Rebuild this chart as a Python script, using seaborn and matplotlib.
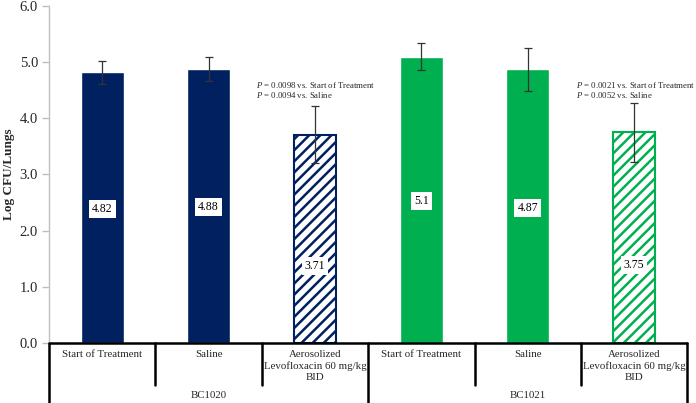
import matplotlib
matplotlib.use("Agg")
import matplotlib.pyplot as plt
import seaborn as sns
import pandas as pd
import numpy as np

# ---- data ----
groups = ["BC1020", "BC1020", "BC1020", "BC1021", "BC1021", "BC1021"]
treatments = ["Start of Treatment", "Saline", "Aerosolized\nLevofloxacin 60 mg/kg\nBID",
              "Start of Treatment", "Saline", "Aerosolized\nLevofloxacin 60 mg/kg\nBID"]
means = [4.82, 4.88, 3.71, 5.1, 4.87, 3.75]
errors = [0.21, 0.22, 0.51, 0.24, 0.38, 0.52]
value_labels = ["4.82", "4.88", "3.71", "5.1", "4.87", "3.75"]
hatched = [False, False, True, False, False, True]
pvalue_text = {2: ["$P$ = 0.0098 vs. Start of Treatment", "$P$ = 0.0094 vs. Saline"],
               5: ["$P$ = 0.0021 vs. Start of Treatment", "$P$ = 0.0052 vs. Saline"]}
yticks = [0.0, 1.0, 2.0, 3.0, 4.0, 5.0, 6.0]

navy = "#002060"
green = "#00B050"
colors = [navy, navy, navy, green, green, green]

sns.set_theme(style="white")
plt.rcParams["font.family"] = ["Liberation Serif", "DejaVu Serif"]
plt.rcParams["mathtext.fontset"] = "custom"
plt.rcParams["mathtext.it"] = "Liberation Serif:italic"
plt.rcParams["mathtext.rm"] = "Liberation Serif"
plt.rcParams["hatch.linewidth"] = 1.8

keys = [f"{g}|{t}" for g, t in zip(groups, treatments)]
df = pd.DataFrame({"key": keys, "mean": means})

fig = plt.figure(figsize=(6.96, 4.03), dpi=100)
ax = fig.add_axes([0.0705, 0.149, 0.917, 0.836])

sns.barplot(data=df, x="key", y="mean", hue="key", order=keys, hue_order=keys,
            palette=dict(zip(keys, colors)), width=0.4, dodge=False, legend=False,
            errorbar=None, ax=ax, saturation=1)

centers = []
for i, p in enumerate(ax.patches[:6]):
    cx = p.get_x() + p.get_width() / 2
    centers.append(cx)
    if hatched[i]:
        p.set_facecolor("white")
        p.set_edgecolor(colors[i])
        p.set_hatch("///")
        p.set_linewidth(1.5)

ax.errorbar(centers, means, yerr=errors, fmt="none", ecolor="#333333",
            elinewidth=0.9, capsize=3, capthick=0.9, zorder=5)

for i, cx in enumerate(centers):
    ly = means[i] * (0.37 if hatched[i] else 0.495)
    ax.text(cx, ly, value_labels[i], ha="center", va="center", fontsize=8.5,
            color="black", zorder=6,
            bbox=dict(boxstyle="square,pad=0.25", fc="white", ec="none"))

tops = [m + e for m, e in zip(means, errors)]
for i, lines in pvalue_text.items():
    ax.text(centers[i] - 0.55, max(tops[2], tops[5]) + 0.05, "\n".join(lines),
            ha="left", va="bottom", fontsize=6.3, linespacing=1.1, zorder=6)

ax.set_xlim(-0.5, 5.5)
ax.set_ylim(0, 6)
ax.set_yticks(yticks)
ax.set_yticklabels([f"{v:.1f}" for v in yticks], fontsize=10.5)
ax.set_xticks([])
ax.set_xlabel("")
ax.set_ylabel("Log CFU/Lungs", fontsize=9.5, fontweight="bold", labelpad=3)
for s in ["top", "right", "bottom"]:
    ax.spines[s].set_visible(False)
ax.spines["left"].set_color("#BFBFBF")
ax.spines["left"].set_linewidth(1.0)
ax.tick_params(axis="y", which="major", left=True, length=5, color="#BFBFBF",
               width=1.0, pad=3)

# category table below axis
tr = ax.get_xaxis_transform()
ax.plot([-0.5, 5.5], [0, 0], color="black", lw=1.8, transform=tr, clip_on=False, zorder=7)
for xb in [0.5, 1.5, 3.5, 4.5]:
    ax.plot([xb, xb], [0, -0.125], color="black", lw=1.8, transform=tr, clip_on=False)
for xb in [-0.5, 2.5, 5.5]:
    ax.plot([xb, xb], [0, -0.2], color="black", lw=1.8, transform=tr, clip_on=False)
for i in range(6):
    ax.text(i, -0.022, treatments[i], ha="center", va="top", fontsize=7.8,
            linespacing=1.3, transform=tr)
for gi, g in enumerate(["BC1020", "BC1021"]):
    ax.text(gi * 3 + 1, -0.155, g, ha="center", va="center", fontsize=7.8, transform=tr)

fig.savefig("out.png", dpi=100)
